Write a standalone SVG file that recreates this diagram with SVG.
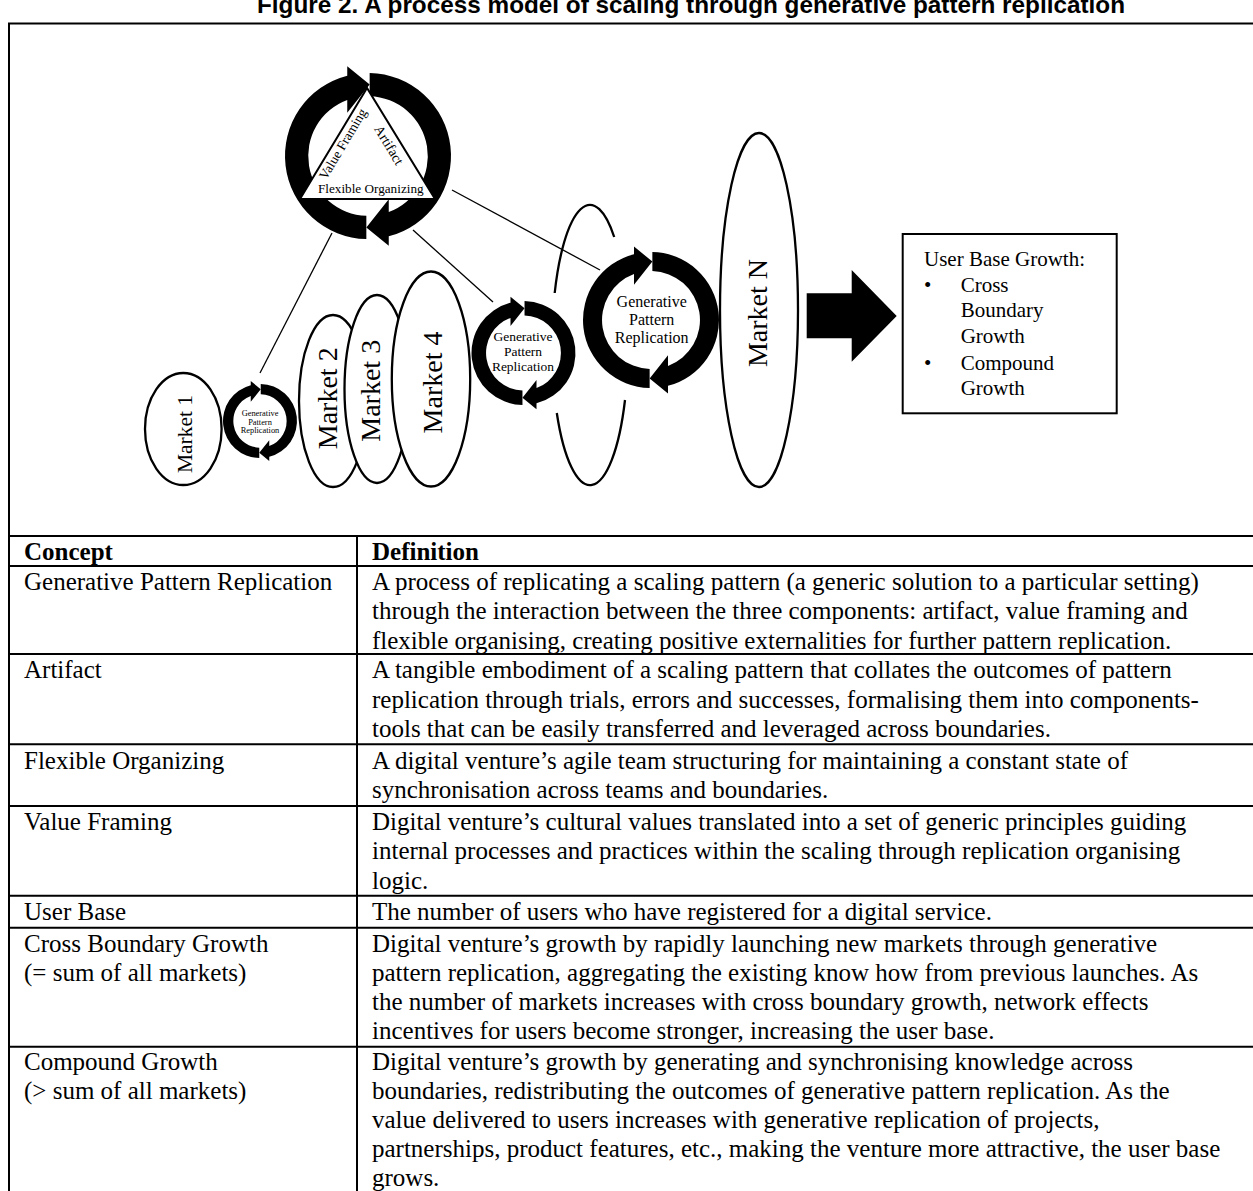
<svg xmlns="http://www.w3.org/2000/svg" xmlns:xlink="http://www.w3.org/1999/xlink" width="1253" height="1191" viewBox="0 0 1253 1191">
<style>
.serif{font-family:"Liberation Serif","Times New Roman",serif;fill:#000}
.tt{font-size:25px}
.th{font-weight:bold}
.mk{font-size:28px;text-anchor:middle}
.gp{text-anchor:middle}
.ln{stroke:#000;stroke-width:1.3;fill:none}
.ol{stroke:#000;stroke-width:2.3;fill:#fff}
.gh{stroke:#000;stroke-width:2.3;fill:none}
.rule{stroke:#000;stroke-width:2;fill:none}
.bx{font-size:21px}
</style>
<defs>
<g id="cyc">
<path d="M -2 100 A 100 100 0 0 1 -25 -96.8 L -25 -108 L 2 -86 L -25 -52 L -25 -67.5 A 72 72 0 0 0 -2 72 Z" fill="#000"/>
<path d="M 2 -100 A 100 100 0 0 1 25 96.8 L 25 108 L -2 86 L 25 52 L 25 67.5 A 72 72 0 0 0 2 -72 Z" fill="#000"/>
</g>
</defs>
<rect width="1253" height="1191" fill="#fff"/>
<text x="257" y="13" font-family="Liberation Sans, Arial, sans-serif" font-weight="bold" font-size="24" textLength="868" lengthAdjust="spacingAndGlyphs">Figure 2. A process model of scaling through generative pattern replication</text>
<rect x="9" y="23.5" width="1270" height="1200" class="rule"/>

<g id="connectors">
<line x1="332" y1="233" x2="260" y2="373" class="ln"/>
<line x1="413" y1="230" x2="493" y2="302" class="ln"/>
<line x1="452" y1="190" x2="600" y2="270" class="ln"/>
</g>

<g id="core-cycle">
<use xlink:href="#cyc" href="#cyc" transform="translate(368,156) scale(0.83)"/>
<polygon points="367,88 300,199 435,199" fill="#fff" stroke="#000" stroke-width="2"/>
<text class="serif" font-size="13.5" text-anchor="middle" transform="translate(346.7,146.2) rotate(-59.3)">Value Framing</text>
<text class="serif" font-size="14" text-anchor="middle" transform="translate(385.1,147.4) rotate(58.9)">Artifact</text>
<text class="serif" font-size="13.2" text-anchor="middle" x="370.8" y="193.3">Flexible Organizing</text>
</g>

<g id="market1">
<ellipse cx="183.3" cy="429" rx="38.3" ry="56" class="ol"/>
<text class="serif" font-size="21.5" text-anchor="middle" transform="translate(191.7,434) rotate(-90)">Market 1</text>
</g>

<g id="gpr1">
<use xlink:href="#cyc" href="#cyc" transform="translate(260,421) scale(0.37)"/>
<text class="serif gp" font-size="8.4"><tspan x="260" y="415.5">Generative</tspan><tspan x="260" y="424.5">Pattern</tspan><tspan x="260" y="433">Replication</tspan></text>
</g>

<g id="market2">
<ellipse cx="333" cy="401" rx="34" ry="86" class="ol"/>
<text class="serif mk" transform="translate(336.7,398.3) rotate(-90)">Market 2</text>
</g>
<g id="market3">
<ellipse cx="377" cy="389" rx="32.5" ry="94" class="ol"/>
<text class="serif mk" transform="translate(380,390.8) rotate(-90)">Market 3</text>
</g>
<g id="market4">
<ellipse cx="431" cy="379" rx="39.2" ry="107.5" class="ol"/>
<text class="serif mk" transform="translate(441.7,382.5) rotate(-90)">Market 4</text>
</g>

<g id="ghost-market">
<path d="M 554.7 293 A 38 140 0 0 1 614.2 237" class="gh"/>
<path d="M 556.8 413 A 38 140 0 0 0 625 400" class="gh"/>
</g>

<g id="gpr2">
<use xlink:href="#cyc" href="#cyc" transform="translate(523.5,353) scale(0.52)"/>
<text class="serif gp" font-size="13.5"><tspan x="523" y="341">Generative</tspan><tspan x="523" y="356">Pattern</tspan><tspan x="523" y="370.7">Replication</tspan></text>
</g>

<g id="gpr3">
<use xlink:href="#cyc" href="#cyc" transform="translate(651,320) scale(0.68)"/>
<text class="serif gp" font-size="16"><tspan x="651.7" y="306.7">Generative</tspan><tspan x="651.7" y="325">Pattern</tspan><tspan x="651.7" y="343.3">Replication</tspan></text>
</g>

<g id="marketN">
<ellipse cx="759" cy="310" rx="39" ry="177" class="ol"/>
<text class="serif mk" transform="translate(767,313) rotate(-90)">Market N</text>
</g>

<g id="growth-arrow">
<polygon points="806.7,293.3 851.7,293.3 851.7,270 896.7,316 851.7,361.7 851.7,338.3 806.7,338.3" fill="#000"/>
</g>

<g id="user-base-growth">
<rect x="902.7" y="234" width="214" height="179.3" fill="#fff" stroke="#000" stroke-width="2"/>
<text class="serif bx" x="924" y="265.7">User Base Growth:</text>
<text class="serif bx" x="924" y="291.7">•</text>
<text class="serif bx" x="960.7" y="291.7">Cross</text>
<text class="serif bx" x="960.7" y="317.3">Boundary</text>
<text class="serif bx" x="960.7" y="343.3">Growth</text>
<text class="serif bx" x="924" y="370">•</text>
<text class="serif bx" x="960.7" y="370">Compound</text>
<text class="serif bx" x="960.7" y="395">Growth</text>
</g>

<g id="table">
<path class="rule" d="M9 536 H1253 M9 566 H1253 M9 654 H1253 M9 744.3 H1253 M9 806 H1253 M9 895.7 H1253 M9 927.7 H1253 M9 1046.7 H1253 M357 536 V1195"/>
<g class="serif tt">
<text class="th" x="24" y="559.5">Concept</text>
<text class="th" x="372" y="559.5">Definition</text>

<text x="24" y="590">Generative Pattern Replication</text>
<text x="372" y="590">A process of replicating a scaling pattern (a generic solution to a particular setting)</text>
<text x="372" y="619.3">through the interaction between the three components: artifact, value framing and</text>
<text x="372" y="648.6">flexible organising, creating positive externalities for further pattern replication.</text>

<text x="24" y="678.3">Artifact</text>
<text x="372" y="678.3">A tangible embodiment of a scaling pattern that collates the outcomes of pattern</text>
<text x="372" y="707.6">replication through trials, errors and successes, formalising them into components-</text>
<text x="372" y="736.9">tools that can be easily transferred and leveraged across boundaries.</text>

<text x="24" y="768.5">Flexible Organizing</text>
<text x="372" y="768.5">A digital venture’s agile team structuring for maintaining a constant state of</text>
<text x="372" y="797.8">synchronisation across teams and boundaries.</text>

<text x="24" y="830">Value Framing</text>
<text x="372" y="830">Digital venture’s cultural values translated into a set of generic principles guiding</text>
<text x="372" y="859.3">internal processes and practices within the scaling through replication organising</text>
<text x="372" y="888.6">logic.</text>

<text x="24" y="920">User Base</text>
<text x="372" y="920">The number of users who have registered for a digital service.</text>

<text x="24" y="951.7">Cross Boundary Growth</text>
<text x="24" y="981">(= sum of all markets)</text>
<text x="372" y="951.7">Digital venture’s growth by rapidly launching new markets through generative</text>
<text x="372" y="981">pattern replication, aggregating the existing know how from previous launches. As</text>
<text x="372" y="1010.2">the number of markets increases with cross boundary growth, network effects</text>
<text x="372" y="1039">incentives for users become stronger, increasing the user base.</text>

<text x="24" y="1070">Compound Growth</text>
<text x="24" y="1098.8">(&gt; sum of all markets)</text>
<text x="372" y="1070">Digital venture’s growth by generating and synchronising knowledge across</text>
<text x="372" y="1098.8">boundaries, redistributing the outcomes of generative pattern replication. As the</text>
<text x="372" y="1127.7">value delivered to users increases with generative replication of projects,</text>
<text x="372" y="1157">partnerships, product features, etc., making the venture more attractive, the user base</text>
<text x="372" y="1185.5">grows.</text>
</g>
</g>
</svg>
